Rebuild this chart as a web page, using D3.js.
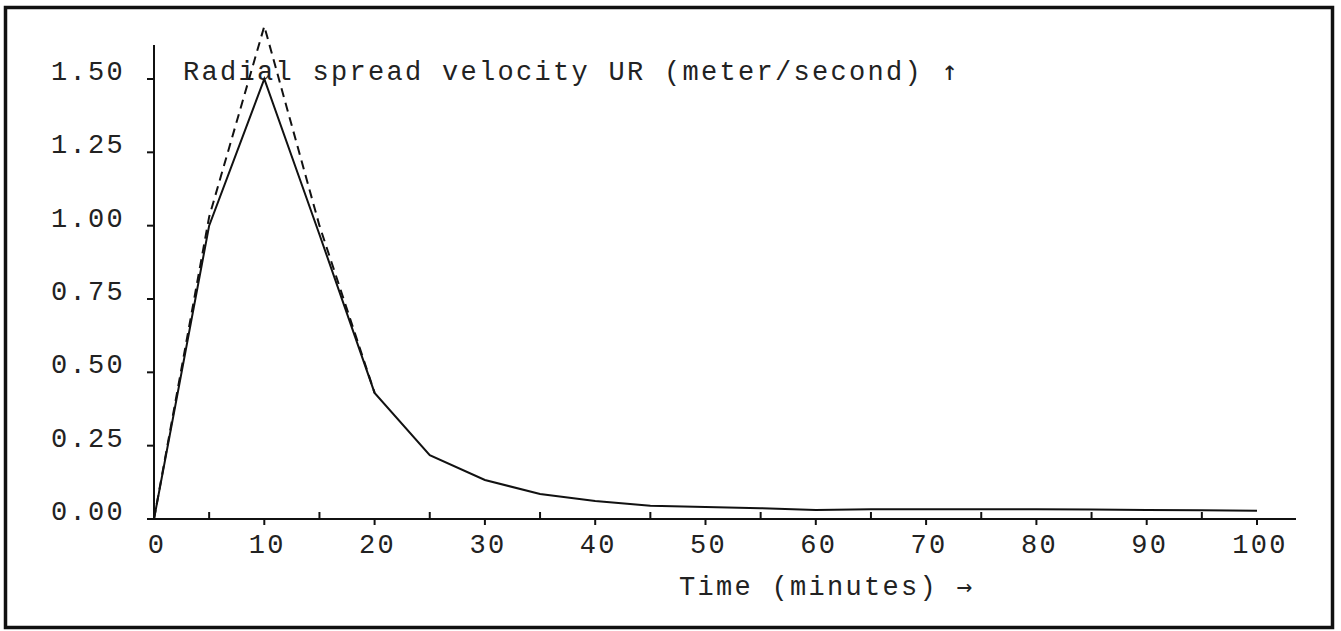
<!DOCTYPE html>
<html>
  <head>
    <title>Radial spread velocity</title>
    <meta charset="utf-8">
    <script type="text/javascript" src="https://d3js.org/d3.v7.min.js"></script>
    <style>
      body { margin: 0; background: #fff; }
      text { font-family: "Liberation Mono", "DejaVu Sans Mono", monospace; fill: #222; }
      tspan.arrow { font-family: "DejaVu Sans Mono", monospace; fill: #222; }
    </style>
  </head>

  <body>
    <div><svg></svg></div>

    <script type="text/javascript">
      "use strict";

      // time in minutes
      var times = [0, 5, 10, 15, 20, 25, 30, 35, 40, 45, 50, 55, 60, 65, 70, 75, 80, 85, 90, 95, 100];
      // radial spread velocity UR, solid curve
      var urSolid = [0, 1.00, 1.50, 0.97, 0.43, 0.218, 0.133, 0.085, 0.061, 0.045, 0.041, 0.037,
                     0.031, 0.033, 0.033, 0.033, 0.033, 0.032, 0.031, 0.030, 0.028];
      // dashed curve (only the first part)
      var dashTimes = [0, 5, 10, 15, 20];
      var urDashed = [0, 1.03, 1.68, 1.00, 0.43];

      var yTicks = [0, 0.25, 0.5, 0.75, 1.0, 1.25, 1.5];
      var xMajor = [0, 10, 20, 30, 40, 50, 60, 70, 80, 90, 100];
      var xMinor = [5, 15, 25, 35, 45, 55, 65, 75, 85, 95];

      var fontSize = '27px',
          spacing = '2.3px';

      var svg = d3.select('svg')
                  .attr('width', 1341)
                  .attr('height', 631);

      // outer frame
      svg.append('rect')
         .attr('x', 5.5).attr('y', 7.5)
         .attr('width', 1327).attr('height', 620)
         .attr('fill', 'none')
         .attr('stroke', '#111')
         .attr('stroke-width', 3.5);

      var x = d3.scaleLinear()
                .domain([0, 100])
                .range([154, 1257]);
      var y = d3.scaleLinear()
                .domain([0, 1.5])
                .range([519, 79]);

      // y axis line + left ticks
      svg.append('line')
         .attr('x1', x(0)).attr('x2', x(0))
         .attr('y1', 45).attr('y2', y(0))
         .attr('stroke', '#111').attr('stroke-width', 2);

      svg.selectAll('.ytick')
         .data(yTicks)
         .enter().append('line')
         .attr('class', 'ytick')
         .attr('x1', x(0) - 7).attr('x2', x(0))
         .attr('y1', function(d) { return y(d); })
         .attr('y2', function(d) { return y(d); })
         .attr('stroke', '#111').attr('stroke-width', 2);

      svg.selectAll('.ylabel')
         .data(yTicks)
         .enter().append('text')
         .attr('class', 'ylabel')
         .attr('x', 125)
         .attr('y', function(d) { return y(d) + 1; })
         .attr('text-anchor', 'end')
         .style('font-size', fontSize)
         .style('letter-spacing', spacing)
         .text(function(d) { return d.toFixed(2); });

      // x axis line, major ticks go down, minor ones go up
      svg.append('line')
         .attr('x1', x(0)).attr('x2', 1296)
         .attr('y1', y(0)).attr('y2', y(0))
         .attr('stroke', '#111').attr('stroke-width', 2);

      svg.selectAll('.xmajor')
         .data(xMajor.slice(1))
         .enter().append('line')
         .attr('class', 'xmajor')
         .attr('x1', function(d) { return x(d); })
         .attr('x2', function(d) { return x(d); })
         .attr('y1', y(0)).attr('y2', y(0) + 6)
         .attr('stroke', '#111').attr('stroke-width', 2);

      svg.selectAll('.xminor')
         .data(xMinor)
         .enter().append('line')
         .attr('class', 'xminor')
         .attr('x1', function(d) { return x(d); })
         .attr('x2', function(d) { return x(d); })
         .attr('y1', y(0)).attr('y2', y(0) - 7)
         .attr('stroke', '#111').attr('stroke-width', 2);

      svg.selectAll('.xlabel')
         .data(xMajor)
         .enter().append('text')
         .attr('class', 'xlabel')
         .attr('x', function(d) { return x(d) + 3; })
         .attr('y', 553)
         .attr('text-anchor', 'middle')
         .style('font-size', fontSize)
         .style('letter-spacing', spacing)
         .text(function(d) { return d; });

      // axis titles, arrows in their own tspan so the fallback font is fixed
      var yTitle = svg.append('text')
         .attr('x', 183).attr('y', 80)
         .style('font-size', fontSize)
         .style('letter-spacing', spacing);
      yTitle.append('tspan').text('Radial spread velocity UR (meter/second) ');
      yTitle.append('tspan').attr('class', 'arrow').style('font-size', '27px').text('\u2191');

      var xTitle = svg.append('text')
         .attr('x', 679).attr('y', 595)
         .style('font-size', fontSize)
         .style('letter-spacing', spacing);
      xTitle.append('tspan').text('Time (minutes) ');
      xTitle.append('tspan').attr('class', 'arrow').style('font-size', '26px').text('\u2192');

      // curves
      var line = d3.line()
                   .x(function(d) { return x(d[0]); })
                   .y(function(d) { return y(d[1]); });

      svg.append('path')
         .datum(d3.zip(dashTimes, urDashed))
         .attr('d', line)
         .attr('fill', 'none')
         .attr('stroke', '#111')
         .attr('stroke-width', 2)
         .attr('stroke-dasharray', '9,6');

      svg.append('path')
         .datum(d3.zip(times, urSolid))
         .attr('d', line)
         .attr('fill', 'none')
         .attr('stroke', '#111')
         .attr('stroke-width', 2);
    </script>
  </body>
</html>
